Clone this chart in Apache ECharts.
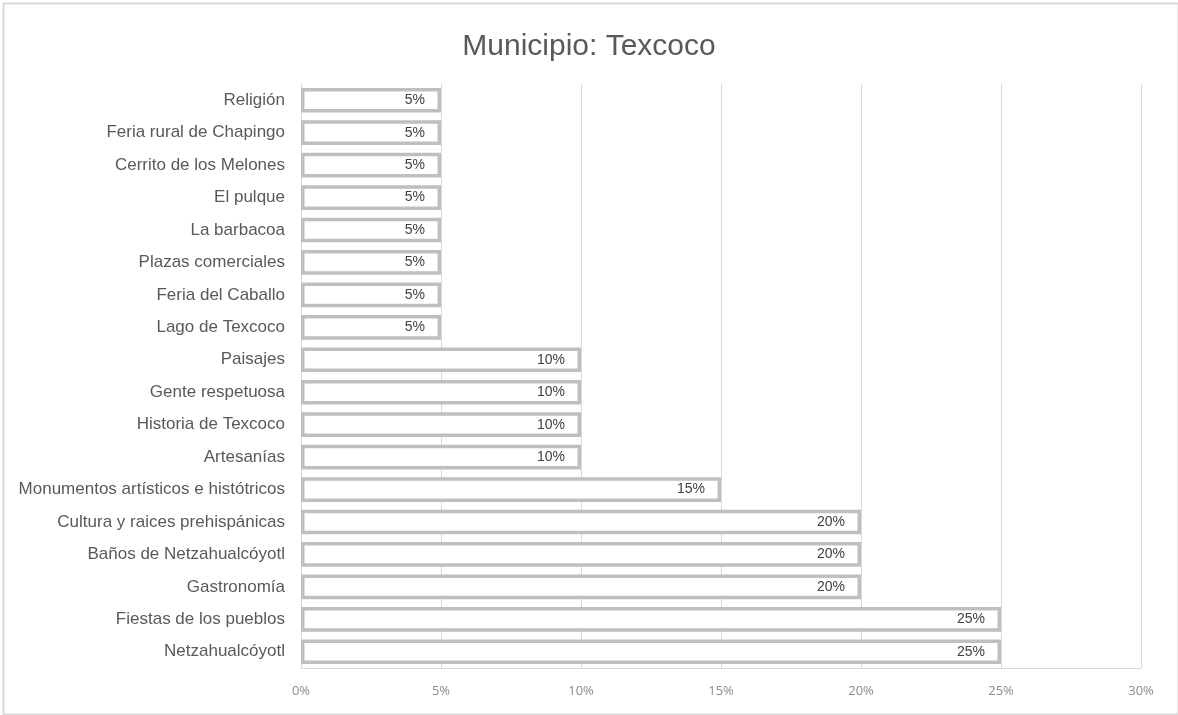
<!DOCTYPE html>
<html>
<head>
<meta charset="utf-8">
<script src="https://cdn.jsdelivr.net/npm/echarts@6/dist/echarts.min.js"></script>
<style>
  html, body { margin: 0; padding: 0; background: #fff; }
  #chart { width: 1178px; height: 715px; }
</style>
</head>
<body>
<div id="chart"></div>
<script>
  // categorías de arriba hacia abajo
  var categories = [
    'Religión', 'Feria rural de Chapingo', 'Cerrito de los Melones', 'El pulque',
    'La barbacoa', 'Plazas comerciales', 'Feria del Caballo', 'Lago de Texcoco',
    'Paisajes', 'Gente respetuosa', 'Historia de Texcoco', 'Artesanías',
    'Monumentos artísticos e histótricos', 'Cultura y raices prehispánicas',
    'Baños de Netzahualcóyotl', 'Gastronomía', 'Fiestas de los pueblos', 'Netzahualcóyotl'
  ];
  var values = [5, 5, 5, 5, 5, 5, 5, 5, 10, 10, 10, 10, 15, 20, 20, 20, 25, 25];
  var xTicks = [0, 5, 10, 15, 20, 25, 30];

  var sans = "'Liberation Sans', Arial, sans-serif";
  var myChart = echarts.init(document.getElementById('chart'));
  myChart.setOption({
    animation: false,
    title: {
      text: 'Municipio: Texcoco',
      left: 'center',
      top: 27,
      textStyle: {
        color: '#595959',
        fontSize: 30,
        fontWeight: 'normal',
        fontFamily: sans
      }
    },
    graphic: [{
      type: 'rect',
      left: 1,
      top: 1,
      shape: { width: 1175, height: 711 },
      style: { fill: 'none', stroke: '#d9d9d9', lineWidth: 2 },
      silent: true
    }],
    grid: {
      left: 301,
      right: 37,
      top: 84,
      bottom: 47
    },
    xAxis: {
      type: 'value',
      min: xTicks[0],
      max: xTicks[xTicks.length - 1],
      interval: 5,
      axisLabel: {
        color: '#8c8c8c',
        fontSize: 13,
        fontFamily: "'Open Sans', sans-serif",
        margin: 17,
        formatter: '{value}%'
      },
      axisLine: { show: true, lineStyle: { color: '#d9d9d9' } },
      axisTick: { show: false },
      splitLine: { lineStyle: { color: '#d9d9d9' } }
    },
    yAxis: {
      type: 'category',
      inverse: true,
      data: categories,
      axisLabel: {
        color: '#595959',
        fontSize: 17,
        fontFamily: sans,
        margin: 16
      },
      axisLine: { show: true, lineStyle: { color: '#d9d9d9' } },
      axisTick: { show: false }
    },
    series: [{
      type: 'bar',
      data: values,
      barCategoryGap: '24%',
      itemStyle: {
        color: '#ffffff',
        borderColor: '#bfbfbf',
        borderWidth: 3.5
      },
      label: {
        show: true,
        position: 'insideRight',
        distance: 16,
        color: '#404040',
        fontSize: 14,
        fontFamily: sans,
        formatter: '{c}%'
      }
    }]
  });
</script>
</body>
</html>
